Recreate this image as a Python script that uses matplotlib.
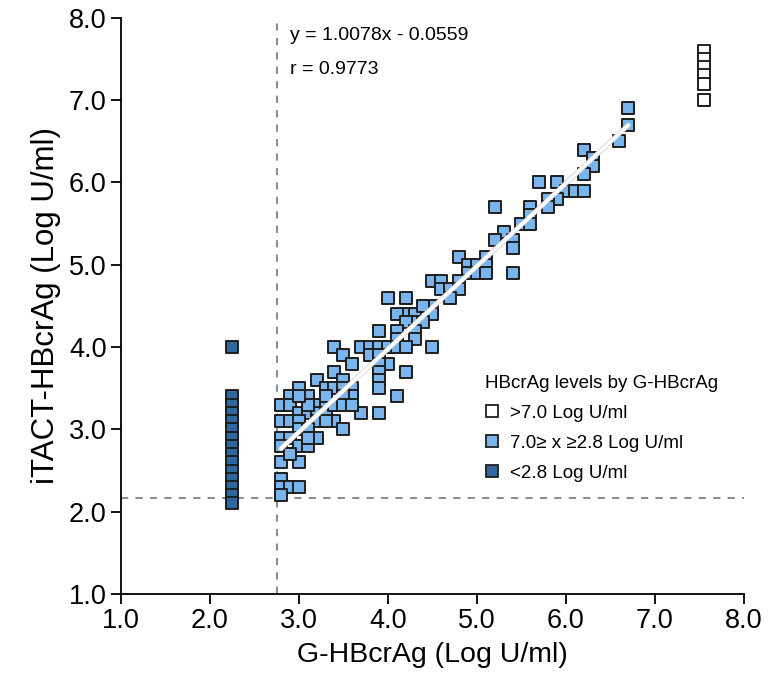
import numpy as np
import matplotlib
matplotlib.use("Agg")
import matplotlib.pyplot as plt
from matplotlib.lines import Line2D

plt.rcParams["font.family"] = ["Liberation Sans", "DejaVu Sans"]

# ── Data ──────────────────────────────────────────────────────
# G-HBcrAg > 7.0 (plotted at the upper bound column)
high_x = [7.55, 7.55, 7.55, 7.55, 7.55, 7.55]
high_y = [7.6, 7.5, 7.4, 7.3, 7.2, 7.0]

# G-HBcrAg < 2.8 (plotted at the lower bound column)
low_x = [2.25] * 15
low_y = [4.0, 3.4, 3.3, 3.2, 3.1, 3.0, 2.9, 2.8, 2.7, 2.6, 2.5, 2.4, 2.3, 2.2, 2.1]

# 7.0 >= G-HBcrAg >= 2.8
mid_x = [6.7, 6.7, 6.6, 6.2, 6.3, 6.3, 6.2, 5.7, 5.9, 6.0, 6.1, 6.2, 5.9, 5.8,
         5.8, 5.6, 5.2, 5.6, 5.5, 5.6, 5.3, 5.2, 5.4, 5.4, 5.4, 4.8, 5.1, 4.9,
         5.0, 5.1, 4.9, 5.0, 5.1, 4.5, 4.6, 4.8, 4.6, 4.7, 4.8, 4.7, 4.2, 4.0,
         4.5, 4.2, 4.3, 4.5, 4.1, 4.3, 4.4, 4.2, 3.9, 4.1, 4.3, 4.1, 4.3,
         3.4, 3.7, 3.8, 3.9, 4.0, 4.1, 4.2, 4.5, 3.5, 3.8, 3.9, 4.0, 3.6, 3.9,
         3.4, 3.9, 4.2, 3.5, 3.9, 3.2, 3.0, 3.3, 3.4, 3.6, 3.9, 3.5, 2.9, 3.1,
         3.6, 4.1, 3.5, 2.8, 3.2, 3.3, 2.9, 3.0, 3.1, 3.2, 3.3, 3.7, 3.9, 2.8,
         2.9, 3.0, 3.2, 3.4, 3.5, 3.0, 2.8, 2.9, 3.2, 2.8, 2.9, 3.0, 3.1, 2.8,
         3.0, 2.9, 2.8, 2.8, 2.9, 3.0, 2.8,
         3.1, 3.3, 3.1, 3.4, 3.5, 3.3, 3.1, 4.4, 3.0, 3.6]
mid_y = [6.9, 6.7, 6.5, 6.4, 6.3, 6.2, 6.1, 6.0, 6.0, 5.9, 5.9, 5.9, 5.8, 5.8,
         5.7, 5.7, 5.7, 5.6, 5.5, 5.5, 5.4, 5.3, 5.3, 5.2, 4.9, 5.1, 5.1, 5.0,
         5.0, 5.0, 4.9, 4.9, 4.9, 4.8, 4.8, 4.8, 4.7, 4.7, 4.7, 4.6, 4.6, 4.6,
         4.5, 4.4, 4.4, 4.4, 4.4, 4.3, 4.3, 4.3, 4.2, 4.2, 4.2, 4.1, 4.1,
         4.0, 4.0, 4.0, 4.0, 4.0, 4.0, 4.0, 4.0, 3.9, 3.9, 3.9, 3.8, 3.8, 3.8,
         3.7, 3.7, 3.7, 3.6, 3.6, 3.6, 3.5, 3.5, 3.5, 3.5, 3.5, 3.5, 3.4, 3.4,
         3.4, 3.4, 3.4, 3.3, 3.3, 3.3, 3.3, 3.2, 3.2, 3.2, 3.2, 3.2, 3.2, 3.1,
         3.1, 3.1, 3.1, 3.1, 3.0, 3.0, 2.9, 2.9, 2.9, 2.8, 2.7, 2.8, 2.8, 2.6,
         2.6, 2.7, 2.4, 2.3, 2.3, 2.3, 2.2,
         3.0, 3.1, 3.3, 3.3, 3.3, 3.4, 2.9, 4.5, 3.4, 3.3]

slope, intercept = 1.0078, -0.0559
fit_range = [2.8, 6.7]
cut_x, cut_y = 2.75, 2.17

# ── Plot ──────────────────────────────────────────────────────
fig = plt.figure(figsize=(7.69, 6.77), dpi=100)
ax = fig.add_axes([0.157, 0.1226, 0.8105, 0.851])

ax.axvline(cut_x, color="#78848c", lw=1.3, ls=(0, (4, 4)), zorder=1)
ax.axhline(cut_y, color="#78848c", lw=1.3, ls=(0, (4, 4)), zorder=1)

mk = dict(marker="s", s=78, edgecolors="#1e1e1e", linewidths=1.4, zorder=3)
ax.scatter(high_x, high_y, c="white", **mk)
ax.scatter(mid_x, mid_y, c="#7ab4ec", **mk)
ax.scatter(low_x, low_y, c="#2f67a0", **mk)

fx = np.array(fit_range)
ax.plot(fx, slope * fx + intercept, color="#d4d4d4", lw=3.6, zorder=4,
        solid_capstyle="round")
ax.plot(fx, slope * fx + intercept, color="white", lw=2.4, zorder=5,
        solid_capstyle="round")

ax.text(2.90, 7.79, "y = 1.0078x - 0.0559", fontsize=14, va="center")
ax.text(2.90, 7.37, "r = 0.9773", fontsize=14, va="center")

ax.set_xlim(1, 8)
ax.set_ylim(1, 8)
ticks = np.arange(1, 9)
ax.set_xticks(ticks)
ax.set_yticks(ticks)
ax.set_xticklabels([f"{t:.1f}" for t in ticks], fontsize=19.5)
ax.set_yticklabels([f"{t:.1f}" for t in ticks], fontsize=19.5)
ax.tick_params(direction="out", length=7, width=1.3, pad=3)
for side in ["top", "right"]:
    ax.spines[side].set_visible(False)
for side in ["left", "bottom"]:
    ax.spines[side].set_linewidth(1.3)
ax.set_xlabel("G-HBcrAg (Log U/ml)", fontsize=20.5, labelpad=6)
ax.set_ylabel("iTACT-HBcrAg (Log U/ml)", fontsize=22.5, labelpad=6)

handles = [
    Line2D([], [], marker="s", ls="none", ms=9, mfc="white", mec="#1e1e1e", mew=1.3),
    Line2D([], [], marker="s", ls="none", ms=9, mfc="#7ab4ec", mec="#1e1e1e", mew=1.3),
    Line2D([], [], marker="s", ls="none", ms=9, mfc="#2f67a0", mec="#1e1e1e", mew=1.3),
]
labels = [">7.0 Log U/ml", "7.0\u2265 x \u22652.8 Log U/ml", "<2.8 Log U/ml"]
leg = ax.legend(handles, labels, title="HBcrAg levels by G-HBcrAg",
                loc="upper left", bbox_to_anchor=(0.56, 0.406), frameon=False,
                fontsize=13.5, title_fontsize=13.5, handlelength=0.8,
                handletextpad=0.55, labelspacing=0.68, borderpad=0.3)
leg._legend_box.align = "left"

plt.savefig("out.png", dpi=100)
